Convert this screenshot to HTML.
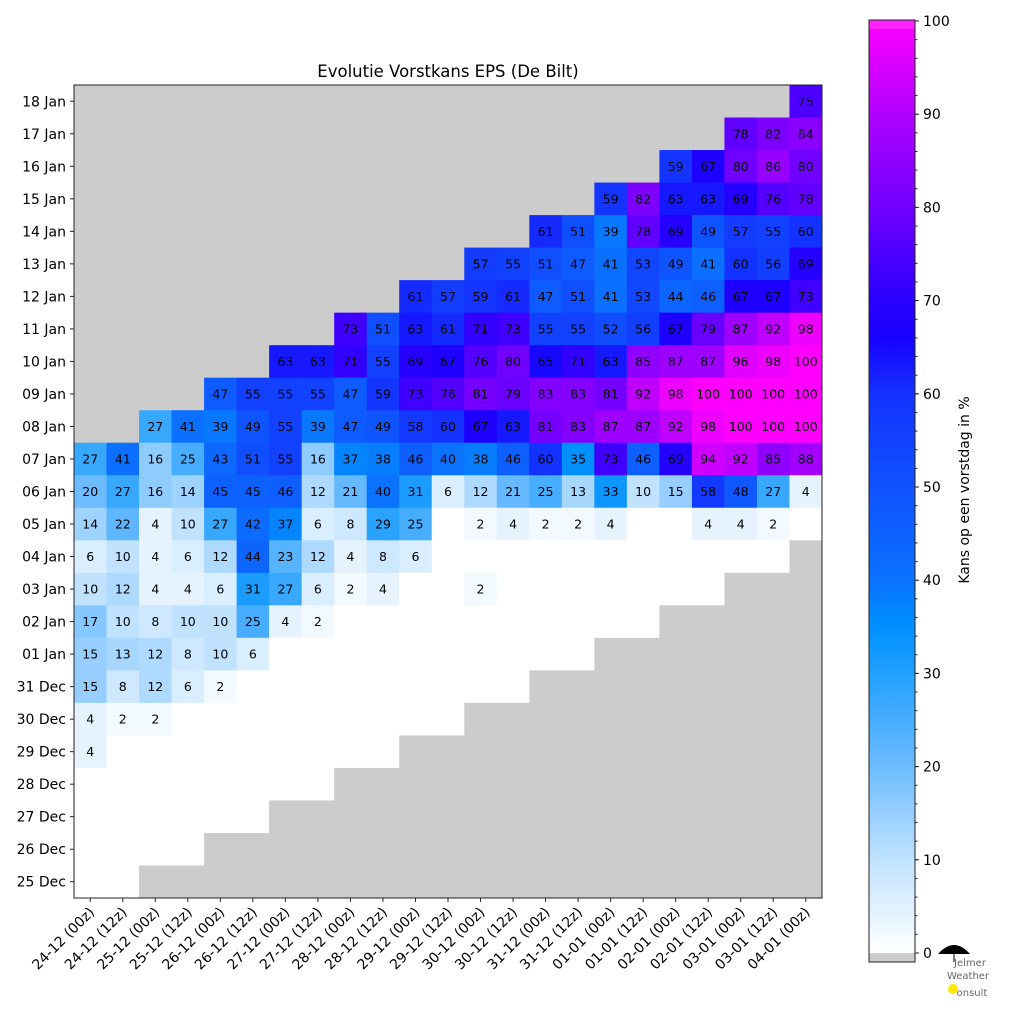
<!DOCTYPE html>
<html><head><meta charset="utf-8"><style>
html,body{margin:0;padding:0;background:#fff;}
svg text{font-family:"DejaVu Sans","Liberation Sans",sans-serif;}
</style></head><body>
<svg id="chart" width="1024" height="1010" xmlns="http://www.w3.org/2000/svg">
<defs>
<linearGradient id="cbgrad" x1="0" y1="1" x2="0" y2="0">
<stop offset="0" stop-color="#ffffff"/>
<stop offset="0.1" stop-color="#c0e2ff"/>
<stop offset="0.2" stop-color="#6cbcff"/>
<stop offset="0.3" stop-color="#22a0ff"/>
<stop offset="0.35" stop-color="#0090ff"/>
<stop offset="0.4" stop-color="#0a72ff"/>
<stop offset="0.5" stop-color="#1052ff"/>
<stop offset="0.6" stop-color="#1432ff"/>
<stop offset="0.66" stop-color="#1800ff"/>
<stop offset="0.7" stop-color="#2a00ff"/>
<stop offset="0.8" stop-color="#7000ff"/>
<stop offset="0.9" stop-color="#b000ff"/>
<stop offset="0.98" stop-color="#ee00ff"/>
<stop offset="1" stop-color="#ff00ff"/>
</linearGradient>
</defs>
<text x="448" y="77" font-size="16.5" text-anchor="middle">Evolutie Vorstkans EPS (De Bilt)</text>
<g id="cells"></g>
<g id="axes"></g>
<g id="colorbar"></g>
<g>
<path d="M938,954 Q954,936 970,954 Z" fill="#000"/>
<line x1="954" y1="954" x2="954" y2="962" stroke="#000" stroke-width="1"/>
<text x="970" y="966" font-size="10" fill="#666" text-anchor="middle">Jelmer</text>
<text x="968" y="979" font-size="10" fill="#666" text-anchor="middle">Weather</text>
<circle cx="953" cy="989" r="5" fill="#ffe600"/>
<text x="972" y="996" font-size="10" fill="#666" text-anchor="middle">onsult</text>
</g>
</svg>
<script>
const runs = ["24-12 (00z)","24-12 (12z)","25-12 (00z)","25-12 (12z)","26-12 (00z)","26-12 (12z)","27-12 (00z)","27-12 (12z)","28-12 (00z)","28-12 (12z)","29-12 (00z)","29-12 (12z)","30-12 (00z)","30-12 (12z)","31-12 (00z)","31-12 (12z)","01-01 (00z)","01-01 (12z)","02-01 (00z)","02-01 (12z)","03-01 (00z)","03-01 (12z)","04-01 (00z)"];
const days = ["18 Jan","17 Jan","16 Jan","15 Jan","14 Jan","13 Jan","12 Jan","11 Jan","10 Jan","09 Jan","08 Jan","07 Jan","06 Jan","05 Jan","04 Jan","03 Jan","02 Jan","01 Jan","31 Dec","30 Dec","29 Dec","28 Dec","27 Dec","26 Dec","25 Dec"];
const N = null;
const values = [
[N,N,N,N,N,N,N,N,N,N,N,N,N,N,N,N,N,N,N,N,N,N,75],
[N,N,N,N,N,N,N,N,N,N,N,N,N,N,N,N,N,N,N,N,78,82,84],
[N,N,N,N,N,N,N,N,N,N,N,N,N,N,N,N,N,N,59,67,80,86,80],
[N,N,N,N,N,N,N,N,N,N,N,N,N,N,N,N,59,82,63,63,69,76,78],
[N,N,N,N,N,N,N,N,N,N,N,N,N,N,61,51,39,78,69,49,57,55,60],
[N,N,N,N,N,N,N,N,N,N,N,N,57,55,51,47,41,53,49,41,60,56,69],
[N,N,N,N,N,N,N,N,N,N,61,57,59,61,47,51,41,53,44,46,67,67,73],
[N,N,N,N,N,N,N,N,73,51,63,61,71,73,55,55,52,56,67,79,87,92,98],
[N,N,N,N,N,N,63,63,71,55,69,67,76,80,65,71,63,85,87,87,96,98,100],
[N,N,N,N,47,55,55,55,47,59,73,76,81,79,83,83,81,92,98,100,100,100,100],
[N,N,27,41,39,49,55,39,47,49,58,60,67,63,81,83,87,87,92,98,100,100,100],
[27,41,16,25,43,51,55,16,37,38,46,40,38,46,60,35,73,46,69,94,92,85,88],
[20,27,16,14,45,45,46,12,21,40,31,6,12,21,25,13,33,10,15,58,48,27,4],
[14,22,4,10,27,42,37,6,8,29,25,0,2,4,2,2,4,0,0,4,4,2,0],
[6,10,4,6,12,44,23,12,4,8,6,0,0,0,0,0,0,0,0,0,0,0,N],
[10,12,4,4,6,31,27,6,2,4,0,0,2,0,0,0,0,0,0,0,N,N,N],
[17,10,8,10,10,25,4,2,0,0,0,0,0,0,0,0,0,0,N,N,N,N,N],
[15,13,12,8,10,6,0,0,0,0,0,0,0,0,0,0,N,N,N,N,N,N,N],
[15,8,12,6,2,0,0,0,0,0,0,0,0,0,N,N,N,N,N,N,N,N,N],
[4,2,2,0,0,0,0,0,0,0,0,0,N,N,N,N,N,N,N,N,N,N,N],
[4,0,0,0,0,0,0,0,0,0,N,N,N,N,N,N,N,N,N,N,N,N,N],
[0,0,0,0,0,0,0,0,N,N,N,N,N,N,N,N,N,N,N,N,N,N,N],
[0,0,0,0,0,0,N,N,N,N,N,N,N,N,N,N,N,N,N,N,N,N,N],
[0,0,0,0,N,N,N,N,N,N,N,N,N,N,N,N,N,N,N,N,N,N,N],
[0,0,N,N,N,N,N,N,N,N,N,N,N,N,N,N,N,N,N,N,N,N,N]
];
const cbTicks = [0,10,20,30,40,50,60,70,80,90,100];

const NS="http://www.w3.org/2000/svg";
const PX=74, PY=85, PW=748, PH=813;
const cw = PW/runs.length, ch = PH/days.length;
const xPos = i => PX + i*cw;
const yPos = j => PY + j*ch;
const stops=[[0,[255,255,255]],[10,[192,226,255]],[20,[108,188,255]],[30,[34,160,255]],[35,[0,144,255]],[40,[10,114,255]],[50,[16,82,255]],[60,[20,50,255]],[66,[24,0,255]],[70,[42,0,255]],[80,[112,0,255]],[90,[176,0,255]],[98,[238,0,255]],[100,[255,0,255]]];
function color(v){
  for(let k=1;k<stops.length;k++){ if(v<=stops[k][0]){const a=stops[k-1],b=stops[k];const t=(v-a[0])/(b[0]-a[0]);const c=a[1].map((x,i)=>Math.round(x+(b[1][i]-x)*t));return `rgb(${c.join(',')})`;} }
  return 'rgb(255,0,255)';
}
function mk(tag,attrs,parent){const e=document.createElementNS(NS,tag);for(const k in attrs)e.setAttribute(k,attrs[k]);parent.appendChild(e);return e;}
const cells=document.getElementById('cells');
mk('rect',{x:PX,y:PY,width:PW,height:PH,fill:'#ffffff'},cells);
values.forEach((row,j)=>row.forEach((v,i)=>{
  const r=mk('rect',{x:xPos(i),y:yPos(j),width:cw+0.5,height:ch+0.5,fill:v===null?'#cccccc':color(v)},cells);
  
  
  if(v!==null && v>0){
    const t=mk('text',{x:xPos(i)+cw/2,y:yPos(j)+ch/2+4.5,'font-size':12.5,'text-anchor':'middle',fill:'#000'},cells);
    t.textContent=v;
    
    
  }
}));
const axes=document.getElementById('axes');
mk('rect',{x:PX,y:PY,width:PW,height:PH,fill:'none',stroke:'#222','stroke-width':1},axes);
days.forEach((d,j)=>{
  const y=yPos(j)+ch/2;
  mk('line',{x1:PX-4,y1:y,x2:PX,y2:y,stroke:'#222'},axes);
  const t=mk('text',{x:PX-8,y:y+5,'font-size':14,'text-anchor':'end'},axes);
  t.textContent=d;
  
  
});
runs.forEach((r,i)=>{
  const x=xPos(i)+cw/2;
  mk('line',{x1:x,y1:PY+PH,x2:x,y2:PY+PH+4,stroke:'#222'},axes);
  const t=mk('text',{x:x+5,y:PY+PH+15,'font-size':14,'text-anchor':'end',transform:`rotate(-45 ${x+5} ${PY+PH+15})`},axes);
  t.textContent=r;
  
  
});
const cb=document.getElementById('colorbar');
const CX=869, CW=46, C0=953, C100=21;
const cbY = v => C0 + (C100-C0)*v/100;
mk('rect',{x:CX,y:C0,width:CW,height:9,fill:'#cccccc'},cb);
mk('rect',{x:CX,y:C100,width:CW,height:C0-C100,fill:'url(#cbgrad)'},cb);
mk('rect',{x:CX,y:20,width:CW,height:9,fill:'#ff22ff'},cb);
mk('rect',{x:CX,y:20,width:CW,height:942,fill:'none',stroke:'#222'},cb);
for(let v=0;v<=100;v+=2){mk('line',{x1:CX+CW,y1:cbY(v),x2:CX+CW+2.5,y2:cbY(v),stroke:'#222'},cb);}
cbTicks.forEach(v=>{
  mk('line',{x1:CX+CW,y1:cbY(v),x2:CX+CW+4,y2:cbY(v),stroke:'#222'},cb);
  const t=mk('text',{x:CX+CW+8,y:cbY(v)+5,'font-size':14},cb);
  t.textContent=v;
  
  
});
const lab=mk('text',{x:969,y:490,'font-size':14,'text-anchor':'middle',transform:'rotate(-90 969 490)'},cb);
lab.textContent='Kans op een vorstdag in %';


</script>
</body></html>
